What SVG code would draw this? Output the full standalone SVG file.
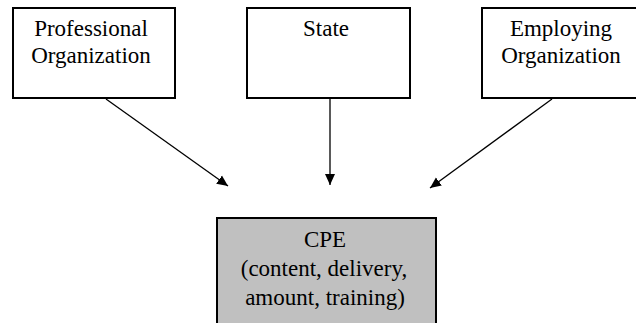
<svg xmlns="http://www.w3.org/2000/svg" width="636" height="323" viewBox="0 0 636 323">
<style>
.box{fill:#fff;stroke:#000;stroke-width:2}
.cpe{fill:#c0c0c0;stroke:#000;stroke-width:2}
.t{font-family:"Liberation Serif","Times New Roman",serif;font-size:23px;fill:#000;text-anchor:middle}
.c{stroke:#000;stroke-width:1.3;fill:none;marker-end:url(#ah)}
</style>
<defs>
<marker id="ah" markerWidth="12" markerHeight="12" refX="11" refY="6" orient="auto" markerUnits="userSpaceOnUse">
<path d="M0,1 L11,6 L0,11 Z" fill="#000"/>
</marker>
</defs>
<rect width="636" height="323" fill="#fff"/>
<g id="professional">
<rect class="box" x="13" y="8" width="162" height="90"/>
<text class="t" x="91" y="36">Professional</text>
<text class="t" x="91" y="63">Organization</text>
</g>
<g id="state">
<rect class="box" x="247" y="8" width="163" height="90"/>
<text class="t" x="326" y="36">State</text>
</g>
<g id="employing">
<rect class="box" x="482" y="8" width="170" height="90"/>
<text class="t" x="561" y="36">Employing</text>
<text class="t" x="561" y="63">Organization</text>
</g>
<g id="cpe">
<rect class="cpe" x="217" y="218" width="219" height="115"/>
<text class="t" x="325" y="247">CPE</text>
<text class="t" x="324" y="276">(content, delivery,</text>
<text class="t" x="325" y="305">amount, training)</text>
</g>
<g id="connectors">
<line class="c" x1="106" y1="99" x2="228" y2="186"/>
<line class="c" x1="330" y1="99" x2="330" y2="185"/>
<line class="c" x1="552" y1="99" x2="430" y2="188"/>
</g>
</svg>
